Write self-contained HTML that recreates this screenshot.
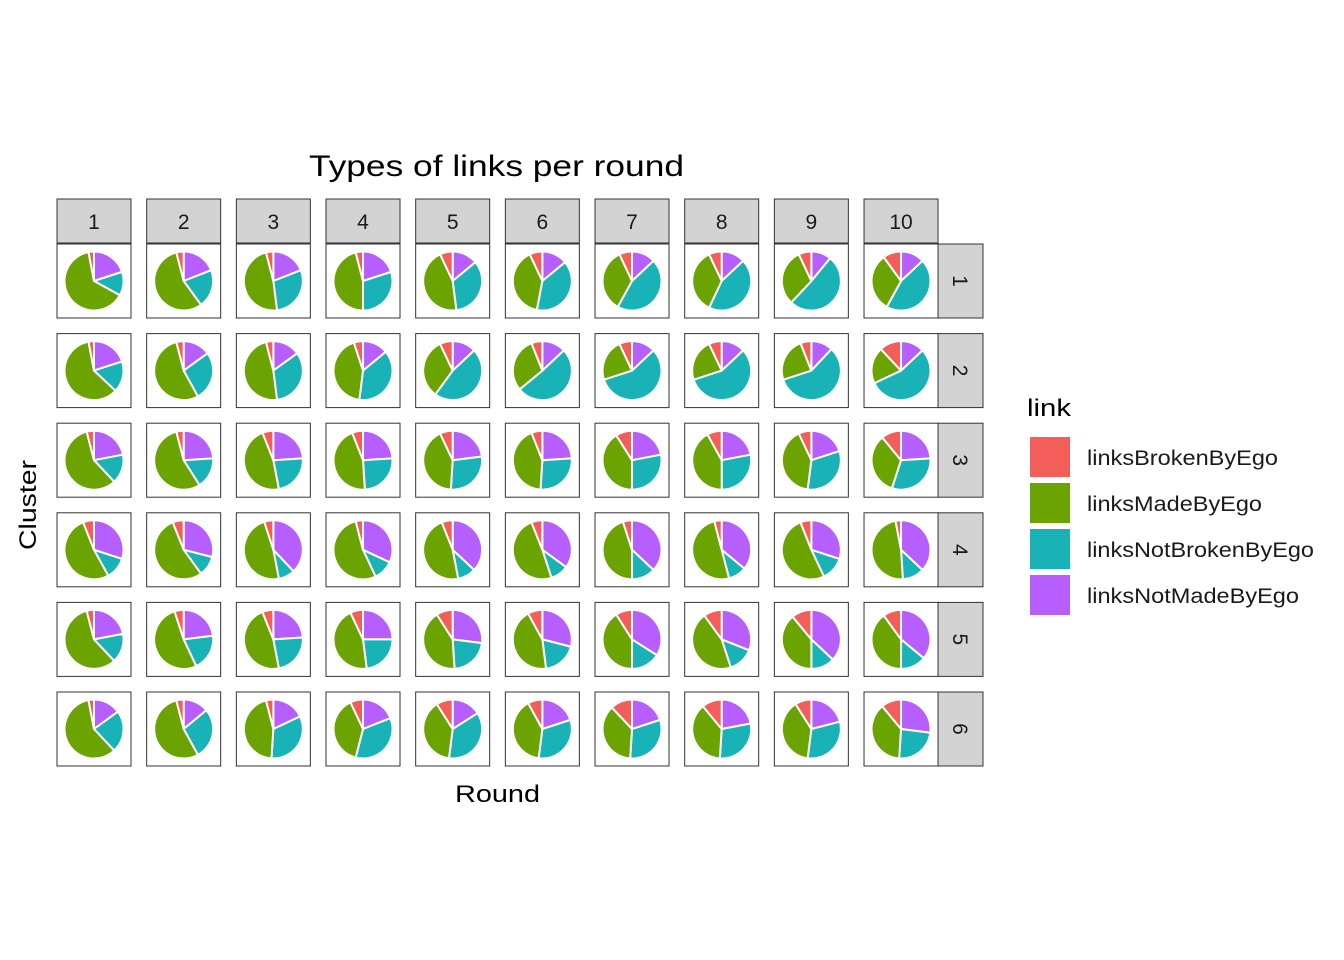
<!DOCTYPE html>
<html><head><meta charset="utf-8"><style>
body{margin:0;background:#fff;}
svg{display:block;font-family:"Liberation Sans",Arial,sans-serif;}
</style></head><body>
<svg id="chart" width="1344" height="960">
<text x="309" y="176" font-size="30" textLength="375" lengthAdjust="spacingAndGlyphs" fill="#000">Types of links per round</text>
<text x="455" y="802" font-size="24" textLength="85" lengthAdjust="spacingAndGlyphs" fill="#000">Round</text>
<text x="0" y="0" font-size="24" textLength="90" lengthAdjust="spacingAndGlyphs" transform="translate(36,550) rotate(-90)" fill="#000">Cluster</text>
<g id="panels"></g>
<g id="legend">
<text x="1027" y="416" font-size="24" textLength="44" lengthAdjust="spacingAndGlyphs" fill="#000">link</text>
</g>
</svg>
<script>
// categories
const rounds = ["1","2","3","4","5","6","7","8","9","10"];
const clusters = ["1","2","3","4","5","6"];
const linkTypes = ["linksBrokenByEgo","linksMadeByEgo","linksNotBrokenByEgo","linksNotMadeByEgo"];
// series values: per cluster, per round (fractions)
const brokenVals = [
 [.03,.04,.04,.04,.07,.07,.07,.07,.07,.10],
 [.03,.04,.04,.05,.07,.06,.07,.07,.06,.12],
 [.04,.04,.06,.06,.07,.06,.09,.08,.07,.11],
 [.06,.06,.05,.04,.06,.06,.05,.04,.06,.03],
 [.04,.05,.06,.07,.09,.08,.09,.10,.11,.10],
 [.03,.04,.04,.07,.09,.08,.12,.11,.09,.11]];
const madeVals = [
 [.64,.56,.48,.46,.45,.40,.35,.36,.31,.32],
 [.60,.54,.48,.43,.33,.30,.23,.23,.24,.20],
 [.58,.55,.47,.45,.42,.43,.41,.42,.41,.34],
 [.52,.54,.48,.53,.47,.49,.45,.50,.51,.48],
 [.58,.52,.47,.45,.42,.44,.41,.45,.39,.40],
 [.59,.54,.45,.39,.39,.40,.37,.38,.39,.38]];
const notBrokenVals = [
 [.13,.21,.29,.30,.34,.39,.45,.44,.51,.45],
 [.17,.27,.33,.38,.47,.51,.57,.57,.58,.55],
 [.16,.17,.23,.25,.28,.27,.28,.28,.32,.31],
 [.12,.11,.09,.11,.10,.10,.13,.10,.13,.12],
 [.16,.20,.23,.23,.22,.19,.16,.14,.13,.14],
 [.23,.28,.33,.35,.36,.32,.31,.29,.31,.24]];
const notMadeVals = [
 [.20,.19,.19,.20,.14,.14,.13,.13,.11,.13],
 [.20,.15,.15,.14,.13,.13,.13,.13,.12,.13],
 [.22,.24,.24,.24,.23,.24,.22,.22,.20,.24],
 [.30,.29,.38,.32,.37,.35,.37,.36,.30,.37],
 [.22,.23,.24,.25,.27,.29,.34,.31,.37,.36],
 [.15,.14,.18,.19,.16,.20,.20,.22,.21,.27]];
const colors = {linksBrokenByEgo:"#F35E5A",linksMadeByEgo:"#6BA300",linksNotBrokenByEgo:"#19B3B7",linksNotMadeByEgo:"#B75EFF"};
const legendLabelWidths = {linksBrokenByEgo:191,linksMadeByEgo:175,linksNotBrokenByEgo:227,linksNotMadeByEgo:212};

const NS="http://www.w3.org/2000/svg";
function mk(t,a,p){const e=document.createElementNS(NS,t);for(const k in a)e.setAttribute(k,a[k]);p.appendChild(e);return e;}
const panelX = i => 57 + i*89.67;
const panelY = j => 244 + j*89.6;
const PW=74, R=29.5;
const g=document.getElementById('panels');

rounds.forEach((r,i)=>{
  const s=mk('rect',{x:panelX(i),y:199,width:PW,height:44,fill:"#D3D3D3",stroke:"#333","stroke-width":1},g);
  
  
  const t=mk('text',{x:panelX(i)+PW/2,y:229,"font-size":21,"text-anchor":"middle",fill:"#1a1a1a"},g);
  t.textContent=r;
  
  
});
clusters.forEach((c,j)=>{
  const s=mk('rect',{x:938,y:panelY(j),width:45,height:PW,fill:"#D3D3D3",stroke:"#333","stroke-width":1},g);
  
  
  const t=mk('text',{x:0,y:0,"font-size":21,"text-anchor":"middle",fill:"#1a1a1a",transform:`translate(953,${panelY(j)+PW/2}) rotate(90)`},g);
  t.textContent=c;
  
  
});

function pt(cx,cy,f){const a=f*2*Math.PI;return [cx+R*Math.sin(a),cy-R*Math.cos(a)];}
clusters.forEach((c,j)=>{
  rounds.forEach((r,i)=>{
    const px=panelX(i),py=panelY(j);
    const bg=mk('rect',{x:px,y:py,width:PW,height:PW,fill:"#fff",stroke:"#333","stroke-width":1},g);
    
    
    const cx=px+PW/2, cy=py+PW/2;
    const vals=[["linksNotMadeByEgo",notMadeVals[j][i]],["linksNotBrokenByEgo",notBrokenVals[j][i]],["linksMadeByEgo",madeVals[j][i]],["linksBrokenByEgo",brokenVals[j][i]]];
    const tot=vals.reduce((a,b)=>a+b[1],0);
    let cum=0;
    vals.forEach(([k,v])=>{
      const f0=cum/tot, f1=(cum+v)/tot; cum+=v;
      const [x0,y0]=pt(cx,cy,f0),[x1,y1]=pt(cx,cy,f1);
      const large=(f1-f0)>0.5?1:0;
      const p=mk('path',{d:`M${cx},${cy}L${x0},${y0}A${R},${R} 0 ${large} 1 ${x1},${y1}Z`,fill:colors[k],stroke:"#fff","stroke-width":2,"stroke-linejoin":"round"},g);
      
      
    });
  });
});

const lg=document.getElementById('legend');
linkTypes.forEach((k,n)=>{
  const y=437+n*46;
  const rct=mk('rect',{x:1030,y:y,width:40,height:40,fill:colors[k]},lg);
  
  
  const t=mk('text',{x:1087,y:y+28,"font-size":21,textLength:legendLabelWidths[k],lengthAdjust:"spacingAndGlyphs",fill:"#1a1a1a"},lg);
  t.textContent=k;
  
  
});
</script>
</body></html>
